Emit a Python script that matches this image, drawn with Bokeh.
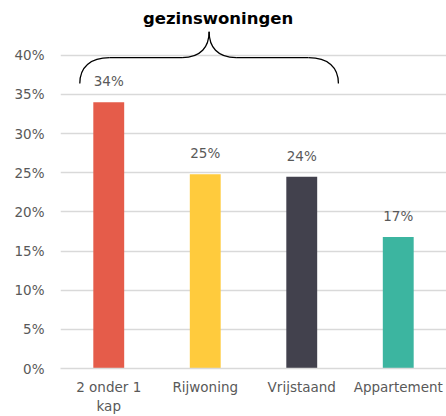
from bokeh.plotting import figure
from bokeh.models import ColumnDataSource, FixedTicker, Range1d
from bokeh.core.properties import value
from bokeh.embed import file_html
from bokeh.resources import INLINE

# ---- data ----
categories = ["2 onder 1 kap", "Rijwoning", "Vrijstaand", "Appartement"]
category_labels = ["2 onder 1\nkap", "Rijwoning", "Vrijstaand", "Appartement"]
shares = [34.0, 24.8, 24.5, 16.8]
share_labels = ["34%", "25%", "24%", "17%"]
bar_colors = ["#E55C4A", "#FFCB3D", "#42414D", "#3CB5A0"]
y_ticks = [0, 5, 10, 15, 20, 25, 30, 35, 40]
y_tick_labels = ["0%", "5%", "10%", "15%", "20%", "25%", "30%", "35%", "40%"]
group_label = "gezinswoningen"
group_members = ["2 onder 1 kap", "Rijwoning", "Vrijstaand"]

FONT = "DejaVu Sans"
TXT = "#595959"
GRID = "#D9D9D9"

xs = [i + 0.5 for i in range(len(categories))]
src = ColumnDataSource(dict(x=xs, top=shares, color=bar_colors, label=share_labels))

p = figure(width=446, height=416, x_range=Range1d(0, len(categories)), y_range=Range1d(0, 47),
           output_backend="svg", toolbar_location=None,
           min_border_left=60, min_border_right=0, min_border_top=0, min_border_bottom=48)
p.outline_line_color = None
p.background_fill_color = "white"
p.border_fill_color = "white"

p.vbar(x="x", top="top", bottom=0, width=0.32, color="color", line_color=None, source=src)
p.text(x="x", y="top", text="label", source=src, y_offset=-13,
       text_align="center", text_baseline="bottom",
       text_font=value(FONT), text_font_size="13.5px", text_color=TXT)

# axes
p.xgrid.visible = False
p.yaxis.ticker = FixedTicker(ticks=y_ticks)
p.yaxis.major_label_overrides = {t: l for t, l in zip(y_ticks, y_tick_labels)}
p.yaxis.axis_line_color = None
p.yaxis.major_tick_line_color = None
p.yaxis.minor_tick_line_color = None
p.yaxis.major_tick_out = 0
p.yaxis.major_label_standoff = 16
p.ygrid.grid_line_color = GRID
p.ygrid.grid_line_width = 1.5

p.xaxis.ticker = FixedTicker(ticks=xs)
p.xaxis.major_label_overrides = {x: l for x, l in zip(xs, category_labels)}
p.xaxis.axis_line_color = GRID
p.xaxis.axis_line_width = 1.5
p.xaxis.major_tick_line_color = None
p.xaxis.minor_tick_line_color = None
p.xaxis.major_tick_out = 0
p.xaxis.major_label_standoff = 10

for ax in (p.xaxis, p.yaxis):
    ax.major_label_text_font = FONT
    ax.major_label_text_font_size = "13.5px"
    ax.major_label_text_color = TXT

# ---- curly brace over the group ----
idx = [categories.index(c) for c in group_members]
left = xs[min(idx)] - 0.30
right = xs[max(idx)] + 0.38
mid = (left + right) / 2
y_end, y_flat, y_peak = 36.4, 39.7, 43.0
ew, pw = 0.31, 0.28
bx0 = [left, mid, mid, right]
by0 = [y_end, y_peak, y_peak, y_end]
bx1 = [left + ew, mid - pw, mid + pw, right - ew]
by1 = [y_flat, y_flat, y_flat, y_flat]
cx0 = [left, mid, mid, right]
cy0 = [y_flat - 1.2, y_flat + 1.4, y_flat + 1.4, y_flat - 1.2]
cx1 = [left + ew * 0.35, mid - pw * 0.3, mid + pw * 0.3, right - ew * 0.35]
cy1 = [y_flat, y_flat, y_flat, y_flat]
p.bezier(x0=bx0, y0=by0, x1=bx1, y1=by1, cx0=cx0, cy0=cy0, cx1=cx1, cy1=cy1,
         line_color="black", line_width=1.3)
p.segment(x0=[left + ew, mid + pw], y0=[y_flat, y_flat], x1=[mid - pw, right - ew], y1=[y_flat, y_flat],
          line_color="black", line_width=1.3)
p.text(x=[mid], y=[44.7], x_offset=9, text=[group_label], text_align="center", text_baseline="middle",
       text_font=value(FONT), text_font_size="16.5px", text_font_style="bold", text_color="black")

open("out.html", "w").write(file_html(p, INLINE))
